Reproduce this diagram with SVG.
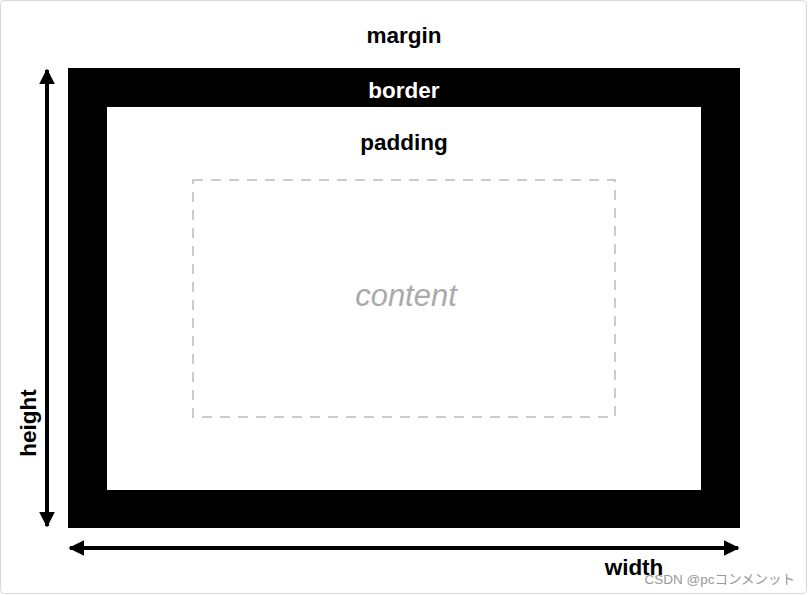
<svg xmlns="http://www.w3.org/2000/svg" width="808" height="595" viewBox="0 0 808 595">
<style>
.lbl{font-family:"Liberation Sans",Arial,sans-serif;font-weight:bold;font-size:22.5px;text-anchor:middle}
.arrow{stroke:#000;stroke-width:4;fill:none}
</style>
<defs>
<marker id="ah" viewBox="0 0 10 10" refX="9" refY="5" markerWidth="4" markerHeight="4" orient="auto-start-reverse" markerUnits="strokeWidth">
<path d="M0,0 L10,5 L0,10 z" fill="#000"/>
</marker>
</defs>
<rect x="0.5" y="0.5" width="806" height="593" rx="4" fill="#fff" stroke="#d8d8d8"/>
<g id="margin"><text class="lbl" x="404" y="43">margin</text></g>
<g id="border">
<rect x="68" y="68" width="672" height="460" fill="#000"/>
<text class="lbl" x="404" y="98" fill="#fff">border</text>
</g>
<g id="padding">
<rect x="107" y="107" width="594" height="383" fill="#fff"/>
<text class="lbl" x="404" y="150">padding</text>
</g>
<g id="content">
<rect x="193" y="180" width="422" height="237" fill="none" stroke="#bbb" stroke-width="1.5" stroke-dasharray="10 8"/>
<text x="406" y="306" font-family="Liberation Sans,Arial,sans-serif" font-style="italic" font-size="31" fill="#aaa" text-anchor="middle">content</text>
</g>
<g id="connectors">
<line class="arrow" x1="47" y1="526" x2="47" y2="70" marker-start="url(#ah)" marker-end="url(#ah)"/>
<line class="arrow" x1="70" y1="548" x2="738" y2="548" marker-start="url(#ah)" marker-end="url(#ah)"/>
</g>
<g id="height"><text class="lbl" transform="translate(36,423) rotate(-90)" y="0">height</text></g>
<g id="width"><text class="lbl" x="634" y="575">width</text></g>
<text x="795" y="584" font-family="Liberation Sans,'Noto Sans CJK JP',sans-serif" font-size="13.5" fill="#999" text-anchor="end">CSDN @pcコンメンット</text>
</svg>
